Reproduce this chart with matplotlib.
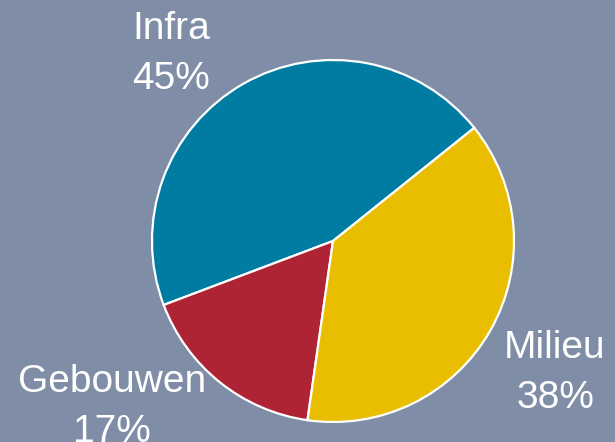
import matplotlib
matplotlib.use("Agg")
import matplotlib.pyplot as plt

labels = ["Infra", "Gebouwen", "Milieu"]
values = [45, 17, 38]
colors = ["#007ca2", "#ae2434", "#e9be00"]
bg = "#7f8ea6"

W, H = 615, 442
fig = plt.figure(figsize=(W / 100, H / 100), dpi=100, facecolor=bg)
ax = fig.add_axes([0, 0, 1, 1])
ax.set_facecolor(bg)

cx, cy, r = 333, 241, 181
ax.pie(values, colors=colors, startangle=38.7, counterclock=True,
       radius=1.0, center=(0, 0),
       wedgeprops=dict(edgecolor="white", linewidth=1.6))
ax.set_xlim(-cx / r, (W - cx) / r)
ax.set_ylim(-(H - cy) / r, cy / r)
ax.set_aspect("equal")
ax.axis("off")

# label positions in pixels (center x, baseline y of first line)
label_pos = {"Infra": (171, 39), "Gebouwen": (112, 392), "Milieu": (555, 358)}
for lab, val in zip(labels, values):
    x, y = label_pos[lab]
    fig.text(x / W, 1 - y / H, lab, ha="center", va="baseline",
             color="white", fontsize=28, family="Liberation Sans")
    fig.text(x / W, 1 - (y + 50) / H, f"{val}%", ha="center", va="baseline",
             color="white", fontsize=28, family="Liberation Sans")

fig.savefig("out.png", dpi=100, facecolor=bg)
